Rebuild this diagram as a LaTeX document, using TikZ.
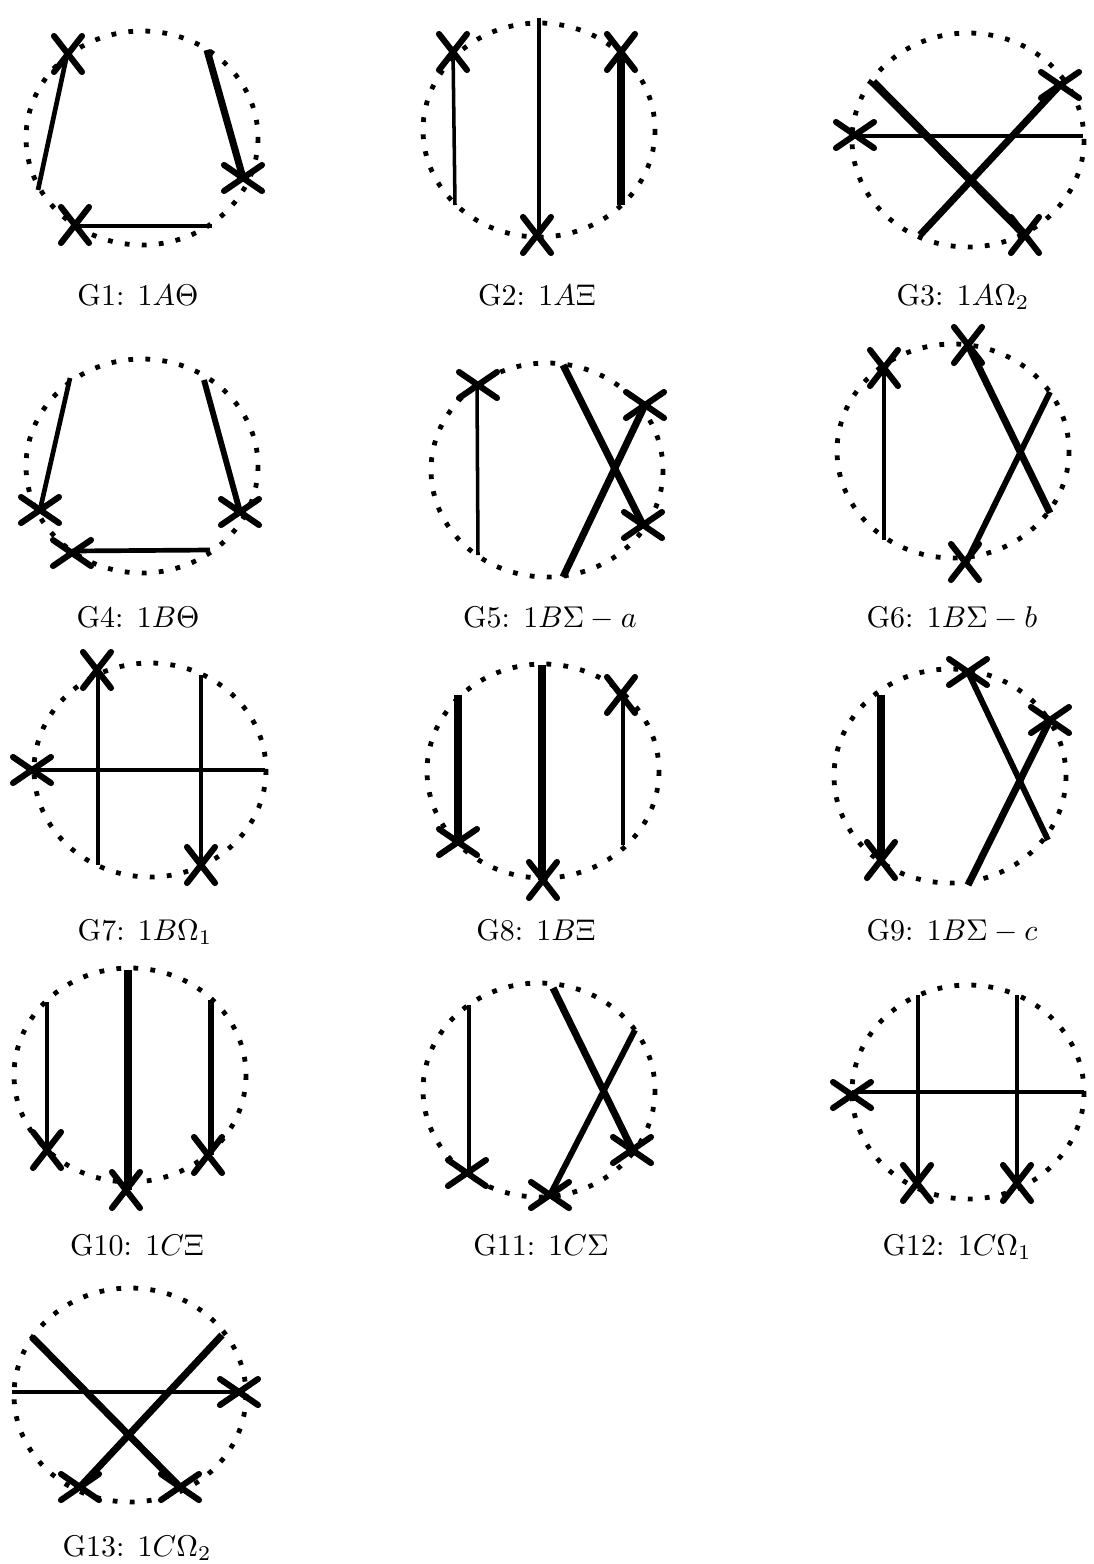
\documentclass[tikz,border=0pt]{standalone}
\tikzset{
  ring/.style={line width=3.6pt,dash pattern=on 3.6pt off 9.2pt},
  chordline/.style={line cap=butt,black},
  crossmark/.style={line width=4.6pt,line cap=round},
  caption/.style={scale=2.25,inner sep=0pt,anchor=base}
}
\newcommand{\ringat}[2]{\draw[ring] (#1,#2) ellipse [x radius=116,y radius=107];}
\newcommand{\chordat}[3]{\draw[chordline,line width=#1*0.88pt] (#2) -- (#3);}
% narrow (tall) and wide (flat) crossing marks
\newcommand{\xmark}[1]{\draw[crossmark] ([shift={(-14,-18)}]#1) -- ([shift={(14,18)}]#1) ([shift={(14,-18)}]#1) -- ([shift={(-14,18)}]#1);}
\newcommand{\xwide}[1]{\draw[crossmark] ([shift={(-19,-13)}]#1) -- ([shift={(19,13)}]#1) ([shift={(19,-13)}]#1) -- ([shift={(-19,13)}]#1);}
\begin{document}
\begin{tikzpicture}[x=0.75pt,y=-0.75pt]
\useasboundingbox (0,0) rectangle (1094,1564);
\fill[white] (0,0) rectangle (1094,1564);
% G1
\ringat{142}{138}
\chordat{4}{68,50}{38,190}\chordat{6}{207,50}{243,178}\chordat{4}{75,226}{212,226}
\xmark{68,54}\xwide{243,178}\xmark{75,225}
\node[caption] (g1) at (138,305) {G1: $1A\Theta$};
% G2
\ringat{539}{130}
\chordat{3}{453,50}{455,205}\chordat{4}{539,18}{539,235}\chordat{6}{621,50}{621,205}
\xmark{453,52}\xmark{621,52}\xmark{537,235}
\node[caption] (g2) at (537,305) {G2: $1A\Xi$};
% G3
\ringat{968}{140}
\chordat{7}{873,82}{1025,235}\chordat{6}{920,235}{1060,85}\chordat{3}{855,136}{1083,136}
\xwide{855,135}\xwide{1060,85}\xmark{1025,235}
\node[caption] (g3) at (963,305) {G3: $1A\Omega_2$};
% G4
\ringat{142}{466}
\chordat{4}{70,378}{40,510}\chordat{5}{204,380}{240,512}\chordat{4}{72,551}{210,550}
\xwide{40,510}\xwide{240,512}\xwide{72,553}
\node[caption] (g4) at (138,627) {G4: $1B\Theta$};
% G5
\ringat{547}{470}
\chordat{3}{477,385}{478,555}\chordat{6}{563,365}{643,525}\chordat{6}{563,577}{645,405}
\xwide{478,385}\xwide{645,405}\xwide{643,525}
\node[caption] (g5) at (550,627) {G5: $1B\Sigma-a$};
% G6
\ringat{953}{451}
\chordat{3}{884,368}{884,540}\chordat{6}{968,345}{1050,513}\chordat{5}{1050,392}{965,565}
\xmark{884,368}\xmark{968,345}\xmark{965,562}
\node[caption] (g6) at (952,627) {G6: $1B\Sigma-b$};
% G7
\ringat{150}{770}
\chordat{3}{98,670}{98,865}\chordat{3}{201,675}{201,870}\chordat{4}{30,770}{265,770}
\xmark{97,670}\xwide{32,770}\xmark{201,865}
\node[caption] (g7) at (145,940) {G7: $1B\Omega_1$};
% G8
\ringat{543}{771}
\chordat{6}{458,695}{458,840}\chordat{6}{542,665}{542,880}\chordat{3}{623,695}{623,845}
\xwide{458,842}\xmark{543,880}\xmark{621,695}
\node[caption] (g8) at (536,940) {G8: $1B\Xi$};
% G9
\ringat{950}{776}
\chordat{6}{881,695}{881,860}\chordat{5}{968,672}{1048,840}\chordat{6}{1050,720}{968,885}
\xwide{968,672}\xwide{1050,720}\xmark{881,860}
\node[caption] (g9) at (952,940) {G9: $1B\Sigma-c$};
% G10
\ringat{130}{1075}
\chordat{4}{47,1002}{47,1150}\chordat{7}{128,970}{128,1190}\chordat{5}{211,1000}{211,1155}
\xmark{47,1150}\xmark{126,1190}\xmark{208,1155}
\node[caption] (g10) at (137,1255) {G10: $1C\Xi$};
% G11
\ringat{539}{1090}
\chordat{3}{469,1005}{469,1175}\chordat{6}{553,988}{635,1155}\chordat{5}{635,1030}{550,1195}
\xwide{467,1173}\xwide{632,1150}\xwide{550,1195}
\node[caption] (g11) at (541,1255) {G11: $1C\Sigma$};
% G12
\ringat{968}{1092}
\chordat{3}{918,995}{918,1185}\chordat{3}{1017,995}{1017,1185}\chordat{4}{852,1092}{1084,1092}
\xwide{852,1095}\xmark{917,1183}\xmark{1017,1183}
\node[caption] (g12) at (957,1255) {G12: $1C\Omega_1$};
% G13
\ringat{130}{1395}
\chordat{6}{32,1337}{180,1487}\chordat{6}{222,1335}{80,1487}\chordat{3}{12,1392}{239,1392}
\xwide{239,1392}\xwide{80,1487}\xwide{180,1487}
\node[caption] (g13) at (137,1556) {G13: $1C\Omega_2$};
\end{tikzpicture}
\end{document}
